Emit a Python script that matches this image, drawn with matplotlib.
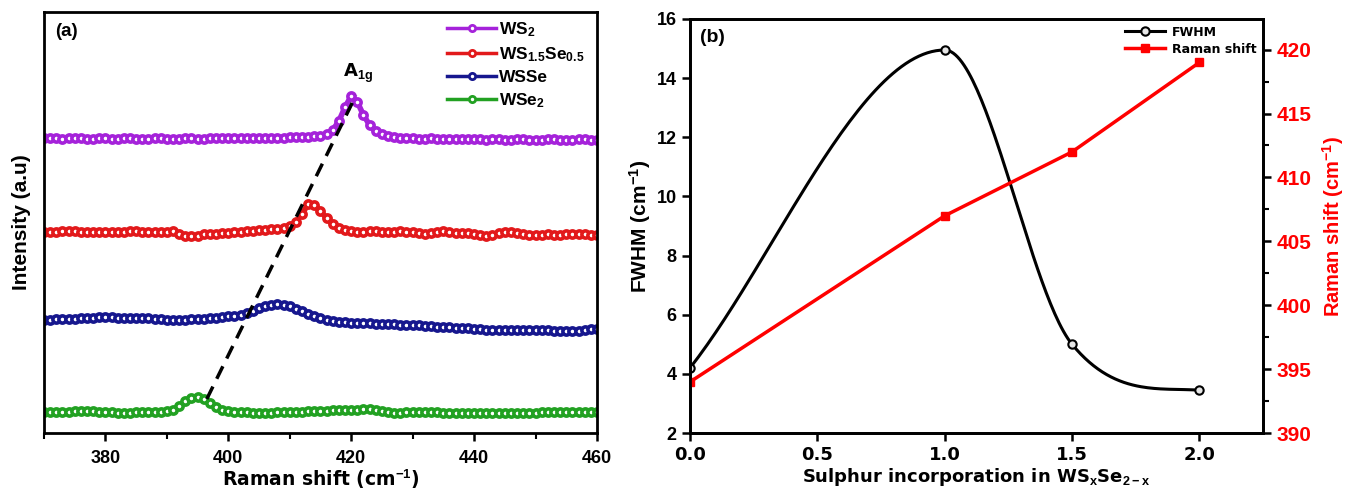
import numpy as np
import matplotlib
matplotlib.use("Agg")
import matplotlib.pyplot as plt
from matplotlib.ticker import MultipleLocator

plt.rcParams['font.family'] = ['Liberation Sans', 'DejaVu Sans']
plt.rcParams['font.weight'] = 'bold'
plt.rcParams['mathtext.fontset'] = 'custom'
plt.rcParams['mathtext.rm'] = 'Liberation Sans:bold'
plt.rcParams['mathtext.bf'] = 'Liberation Sans:bold'
plt.rcParams['mathtext.default'] = 'bf'

# ---- panel (a): Raman spectra, offset intensities (a.u.) ----
raman_x = np.arange(370, 461)

ws2 = [295, 295.5, 295, 294.5, 295, 295.5, 295, 294.5, 294.5, 295,
       295, 294.5, 294.5, 295, 295, 294.5, 294.5, 294.5, 295, 295,
       294.5, 294.5, 294.5, 295, 295, 294.5, 294.5, 295, 295, 295,
       295, 295.5, 295, 295, 295.5, 295.5, 295, 295.5, 295.5, 295.5,
       296, 296, 296, 296.5, 297, 297.5, 299, 303, 312, 326,
       337, 331, 318, 308, 302, 299, 297, 296, 295.5, 295,
       295, 294.5, 294.5, 295, 294.5, 294.5, 294, 294, 294.5, 294.5,
       294, 294, 293.5, 294, 294, 293.5, 293.5, 294, 294, 293.5,
       293.5, 293.5, 294, 294, 293.5, 293.5, 293.5, 294, 294, 293.5,
       293.5]

ws15se05 = [201, 201.5, 201.5, 202, 202, 202, 201.5, 201, 201, 201.5,
            201.5, 201, 201, 201.5, 202, 202, 201.5, 201, 201, 201,
            201, 202, 199, 197.5, 197, 197.5, 199, 199.5, 199.5, 200,
            200.5, 201, 201.5, 202, 202.5, 203, 203.5, 204, 204.5, 205.5,
            207, 211, 219, 229, 228, 222, 215, 209, 205, 203,
            202, 201.5, 201.5, 202, 202, 201.5, 201, 201.5, 202, 201.5,
            201, 200, 199.5, 200, 201, 202, 201, 200.5, 200, 200,
            199.5, 198, 197, 198, 200, 201, 201.5, 200.5, 199, 198,
            198, 198.5, 199, 198.5, 198, 199, 199.5, 199.5, 199, 198.5,
            198.5]

wsse = [113, 113.5, 114, 114, 114.5, 114.5, 115, 115, 115.5, 116,
        116, 116, 115.5, 115.5, 115.5, 115.5, 115.5, 115, 114.5, 114,
        113.5, 113.5, 113.5, 113.5, 114, 114, 114.5, 115, 115.5, 116,
        117, 117.5, 118.5, 120, 122.5, 125, 127, 128.5, 129, 128.5,
        127, 124.5, 122, 119.5, 117, 115, 113.5, 112.5, 111.5, 111,
        110.5, 110.5, 110, 110, 109.5, 109.5, 109, 109, 108.5, 108.5,
        108, 108, 107.5, 107, 106.5, 106.5, 106, 105.5, 105, 105,
        104.5, 104, 103.5, 103, 103, 103, 103.5, 103.5, 103.5, 103.5,
        103.5, 103.5, 103, 102.5, 102, 102, 102, 102.5, 103, 104,
        104]

wse2 = [21, 21.5, 21.5, 21, 21.5, 22, 22, 22, 22, 21.5,
        21.5, 21, 20.5, 20.5, 20.5, 21, 21, 21.5, 21.5, 21.5,
        22, 23, 27, 32, 35.5, 36, 34, 30.5, 26.5, 23.5,
        22, 21.5, 21, 21, 20.5, 20.5, 20.5, 20.5, 21, 21,
        21, 21.5, 21.5, 22, 22, 22.5, 22.5, 23, 23, 23,
        23.5, 23.5, 24, 24.5, 23.5, 22, 21, 20.5, 20.5, 21,
        21, 21, 21, 21, 21, 20.5, 20.5, 20.5, 20.5, 20,
        20, 20, 20, 20, 20, 20, 20, 20, 20.5, 20.5,
        20.5, 21, 21, 21, 21, 21, 21, 21.5, 21.5, 21,
        21]

spectra = [ws2, ws15se05, wsse, wse2]
spectra_labels = ['WS$_2$', 'WS$_{1.5}$Se$_{0.5}$', 'WSSe', 'WSe$_2$']
spectra_colors = ['#A522DA', '#E2191B', '#16178E', '#22A122']

# A1g peak shift guide (peak positions of WSe2 and WS2)
a1g_guide_x = [396.5, 420.8]
a1g_guide_y = [34, 338]

# ---- panel (b): FWHM and Raman shift vs sulphur content ----
sulphur_x = [0.0, 1.0, 1.5, 2.0]
fwhm = [4.2, 14.95, 5.0, 3.45]
fwhm_tangents = [11, 0, -10.5, -0.5]
raman_shift = [394, 407, 412, 419]


def hermite_curve(xk, yk, dk, n=60):
    xs, ys = [], []
    for i in range(len(xk) - 1):
        h = xk[i + 1] - xk[i]
        t = np.linspace(0, 1, n)
        h00 = 2 * t**3 - 3 * t**2 + 1
        h10 = t**3 - 2 * t**2 + t
        h01 = -2 * t**3 + 3 * t**2
        h11 = t**3 - t**2
        xs.append(xk[i] + t * h)
        ys.append(h00 * yk[i] + h10 * h * dk[i] + h01 * yk[i + 1] + h11 * h * dk[i + 1])
    return np.concatenate(xs), np.concatenate(ys)


fig = plt.figure(figsize=(13.57, 4.9), dpi=100)
ax1 = fig.add_axes([0.0324, 0.1163, 0.4075, 0.859])
ax2 = fig.add_axes([0.5085, 0.1163, 0.4223, 0.845])

# panel (a)
for ys, lab, col in zip(spectra, spectra_labels, spectra_colors):
    ax1.plot(raman_x, ys, '-', color=col, lw=4, marker='o', markersize=5.2,
             markerfacecolor='white', markeredgecolor=col, markeredgewidth=2.6,
             label=lab)
ax1.plot(a1g_guide_x, a1g_guide_y, color='black', lw=2.5, ls=(0, (4, 2.5)))
ax1.set_xlim(370, 460)
ax1.set_ylim(0, 421)
ax1.set_yticks([])
ax1.xaxis.set_major_locator(MultipleLocator(20))
ax1.xaxis.set_minor_locator(MultipleLocator(10))
ax1.tick_params(axis='x', which='major', direction='out', length=6, width=1.8,
                labelsize=13, pad=6)
ax1.tick_params(axis='x', which='minor', direction='out', length=4, width=1.5)
ax1.set_xlabel('Raman shift (cm$^{-1}$)', fontsize=13.5, family='DejaVu Sans',
               fontweight='bold', labelpad=1)
ax1.set_ylabel('Intensity (a.u)', fontsize=15, fontweight='bold', labelpad=9)
ax1.text(0.568, 0.855, 'A$_{1g}$', transform=ax1.transAxes, fontsize=13,
         ha='center', va='center', family='DejaVu Sans', fontweight='bold')
ax1.text(0.02, 0.975, '(a)', transform=ax1.transAxes, fontsize=13.5,
         ha='left', va='top', fontweight='bold')
leg1 = ax1.legend(loc='upper right', bbox_to_anchor=(1.0, 1.01), frameon=False,
                  fontsize=12.5, handlelength=2.8, labelspacing=0.35,
                  handletextpad=0.2, borderaxespad=0.3)
for ln in leg1.get_lines():
    ln.set_markersize(4.5)
    ln.set_markeredgewidth(2)
    ln.set_linewidth(2.5)

# panel (b)
fx, fy = hermite_curve(sulphur_x, fwhm, fwhm_tangents)
ax2.plot(fx, fy, color='black', lw=2.2)
ax2.plot(sulphur_x, fwhm, 'o', color='black', markersize=6,
         markerfacecolor='#e6e6e6', markeredgewidth=1.5)
h_fwhm, = ax2.plot([], [], '-o', color='black', lw=2.2, markersize=6,
                   markerfacecolor='#e6e6e6', markeredgewidth=1.5)
ax2.set_xlim(0, 2.25)
ax2.set_ylim(2, 16)
ax2.set_xticks([0.0, 0.5, 1.0, 1.5, 2.0])
ax2.set_xticklabels(['0.0', '0.5', '1.0', '1.5', '2.0'], family='DejaVu Sans',
                    fontweight='bold')
ax2.yaxis.set_major_locator(MultipleLocator(2))
ax2.tick_params(axis='both', direction='out', length=6, width=1.8, labelsize=13)
ax2.set_xlabel('Sulphur incorporation in WS$_x$Se$_{2-x}$', fontsize=13,
               family='DejaVu Sans', fontweight='bold', labelpad=1)
ax2.set_ylabel('FWHM (cm$^{-1}$)', fontsize=15, fontweight='bold', labelpad=3)
ax2.text(0.018, 0.975, '(b)', transform=ax2.transAxes, fontsize=14,
         ha='left', va='top', fontweight='bold')

ax3 = ax2.twinx()
h_raman, = ax3.plot(sulphur_x, raman_shift, '-s', color='red', lw=2.5,
                    markersize=6)
ax3.set_ylim(390, 422.4)
ax3.yaxis.set_major_locator(MultipleLocator(5))
ax3.yaxis.set_minor_locator(MultipleLocator(2.5))
ax3.tick_params(axis='y', which='major', direction='out', length=6, width=1.8,
                labelsize=15, labelcolor='red')
ax3.tick_params(axis='y', which='minor', direction='out', length=4, width=1.5)
ax3.set_ylabel('Raman shift (cm$^{-1}$)', fontsize=14.5, color='red',
               fontweight='bold', labelpad=6)

ax2.legend([h_fwhm, h_raman], ['FWHM', 'Raman shift'], loc='upper right',
           frameon=False, prop={'family': 'DejaVu Sans', 'size': 9, 'weight': 'bold'},
           handlelength=3.2, labelspacing=0.3, handletextpad=0.5,
           borderaxespad=0.15)

for ax in (ax1, ax2, ax3):
    for sp in ax.spines.values():
        sp.set_linewidth(2)

fig.savefig('out.png', dpi=100)
